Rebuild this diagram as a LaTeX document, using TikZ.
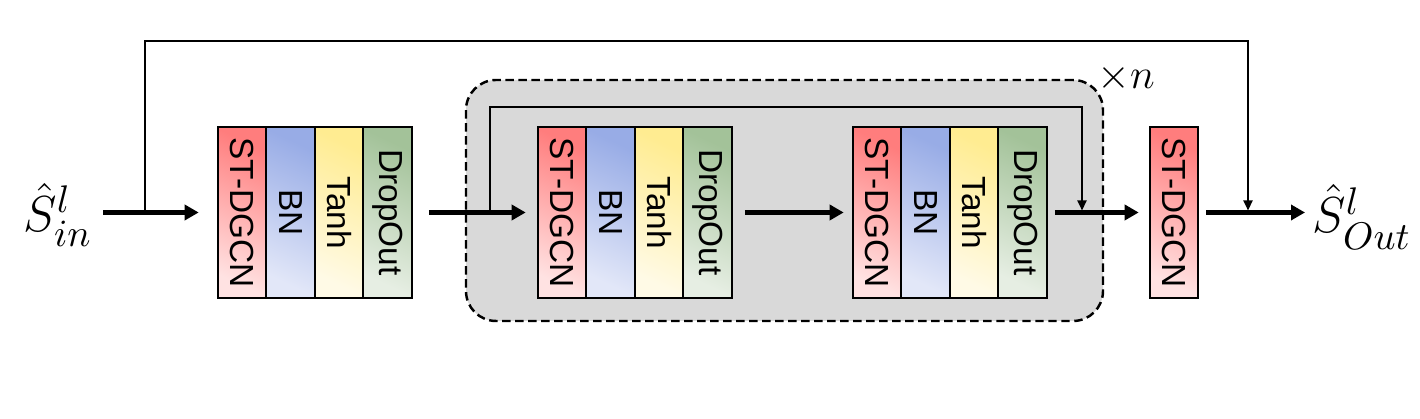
\documentclass[tikz,border=0pt]{standalone}
\usepackage{amssymb,amsmath}
\usepackage{fontspec}
\setsansfont{Liberation Sans}
\usetikzlibrary{positioning}
\usetikzlibrary{shapes.geometric, arrows.meta}
\definecolor{gcnTop}{RGB}{255,125,125}
\definecolor{gcnBot}{RGB}{255,226,226}
\definecolor{bnTop}{RGB}{152,172,230}
\definecolor{bnBot}{RGB}{226,231,248}
\definecolor{actTop}{RGB}{255,236,145}
\definecolor{actBot}{RGB}{255,250,230}
\definecolor{dropTop}{RGB}{163,194,153}
\definecolor{dropBot}{RGB}{230,238,227}
\definecolor{repFill}{RGB}{217,217,217}

\begin{document}
\begin{tikzpicture}
    \tikzset{layer/.style = {rectangle, draw=black, line width=0.6pt,
                            minimum width=0.485cm, minimum height=1.71cm,
                            inner sep=0pt, font=\sffamily\fontsize{9.5}{9.5}\selectfont}}
    \tikzset{gcn/.style = {layer, top color=gcnTop, bottom color=gcnBot, shading angle=-25}}
    \tikzset{bn/.style = {layer, top color=bnTop, bottom color=bnBot, shading angle=-25}}
    \tikzset{act/.style = {layer, top color=actTop, bottom color=actBot, shading angle=-25}}
    \tikzset{drop/.style = {layer, top color=dropTop, bottom color=dropBot, shading angle=-25}}
    \tikzset{flow/.style = {line width=1.2pt, -{Triangle[length=1.4mm,width=1.5mm]}}}
    \tikzset{skip/.style = {line width=0.6pt, -{Triangle[length=1mm,width=0.9mm]}}}
    \tikzset{lbl/.style = {inner sep=0pt, font=\fontsize{15}{17}\selectfont}}

    \useasboundingbox (0,0) rectangle (14.2,4.19);

    % repeated part
    \node (rep) [rectangle, rounded corners=0.3cm, draw=black, fill=repFill,
                 line width=0.7pt, dash pattern=on 2.4pt off 1.3pt,
                 minimum width=6.37cm, minimum height=2.41cm] at (7.845,2.185) {};
    \node (times) [inner sep=0pt, font=\fontsize{12.5}{14}\selectfont] at (11.26,3.41) {$\times n$};

    \node (Sin) [lbl] at (0.58,2.04) {$\hat{S}^{l}_{in}$};
    \node (Sout) [lbl] at (13.62,2.02) {$\hat{S}^{l}_{Out}$};

    \node (G1) [gcn] at (2.42,2.065) {\rotatebox{-90}{ST-DGCN}};
    \node (B1) [bn] at (2.905,2.065) {\rotatebox{-90}{BN}};
    \node (T1) [act] at (3.39,2.065) {\rotatebox{-90}{Tanh}};
    \node (D1) [drop] at (3.875,2.065) {\rotatebox{-90}{DropOut}};

    \node (G2) [gcn] at (5.62,2.065) {\rotatebox{-90}{ST-DGCN}};
    \node (B2) [bn] at (6.105,2.065) {\rotatebox{-90}{BN}};
    \node (T2) [act] at (6.59,2.065) {\rotatebox{-90}{Tanh}};
    \node (D2) [drop] at (7.075,2.065) {\rotatebox{-90}{DropOut}};

    \node (G3) [gcn] at (8.77,2.065) {\rotatebox{-90}{ST-DGCN}};
    \node (B3) [bn] at (9.255,2.065) {\rotatebox{-90}{BN}};
    \node (T3) [act] at (9.74,2.065) {\rotatebox{-90}{Tanh}};
    \node (D3) [drop] at (10.225,2.065) {\rotatebox{-90}{DropOut}};

    \node (G4) [gcn] at (11.74,2.065) {\rotatebox{-90}{ST-DGCN}};

    % main flow
    \draw[flow, shorten <=0.1cm, shorten >=0.18cm] (Sin.east |- G1) -- (G1);
    \draw[flow, shorten <=0.16cm, shorten >=0.11cm] (D1) -- (G2);
    \draw[flow, shorten <=0.12cm, shorten >=0.08cm] (D2) -- (G3);
    \draw[flow, shorten <=0.07cm, shorten >=0.10cm] (D3) -- (G4);
    \draw[flow, shorten <=0.07cm, shorten >=0.07cm] (G4) -- (Sout.west |- G4);

    % skip connections
    \coordinate (in1) at (1.45,2.065);
    \coordinate (out1) at (12.48,2.085);
    \coordinate (in2) at (4.90,2.065);
    \coordinate (out2) at (10.82,2.085);
    \draw[skip] (in1) -- ++(0,1.715) -| (out1);
    \draw[skip] (in2) -- ++(0,1.055) -| (out2);

\end{tikzpicture}
\end{document}
